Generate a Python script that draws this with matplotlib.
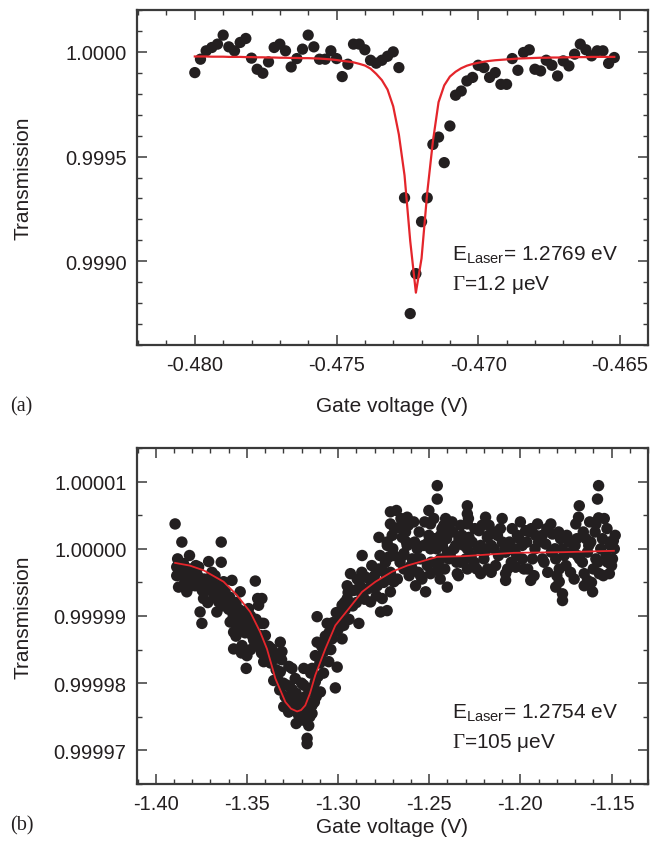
import numpy as np
import matplotlib
matplotlib.use("Agg")
import matplotlib.pyplot as plt
from matplotlib.ticker import MultipleLocator, FormatStrFormatter

plt.rcParams['font.family'] = ['Liberation Sans', 'DejaVu Sans']
plt.rcParams['mathtext.fontset'] = 'custom'
plt.rcParams['mathtext.rm'] = 'Liberation Serif'
plt.rcParams['mathtext.sf'] = 'Liberation Sans'
plt.rcParams['axes.unicode_minus'] = False

# ---------------- Panel (a) data ----------------
gate_a = [-0.4800, -0.4798, -0.4796, -0.4794, -0.4792, -0.4790, -0.4788, -0.4786, -0.4784, -0.4782,
          -0.4780, -0.4778, -0.4776, -0.4774, -0.4772, -0.4770, -0.4768, -0.4766, -0.4764, -0.4762,
          -0.4760, -0.4758, -0.4756, -0.4754, -0.4752, -0.4750, -0.4748, -0.4746, -0.4744, -0.4742,
          -0.4740, -0.4738, -0.4736, -0.4734, -0.4732, -0.4730, -0.4728, -0.4726, -0.4724, -0.4722,
          -0.4720, -0.4718, -0.4716, -0.4714, -0.4712, -0.4710, -0.4708, -0.4706, -0.4704, -0.4702,
          -0.4700, -0.4698, -0.4696, -0.4694, -0.4692, -0.4690, -0.4688, -0.4686, -0.4684, -0.4682,
          -0.4680, -0.4678, -0.4676, -0.4674, -0.4672, -0.4670, -0.4668, -0.4666, -0.4664, -0.4662,
          -0.4660, -0.4658, -0.4656, -0.4654, -0.4652]
# transmission deviation from 1, in units of 1e-4
dev_a = [-0.99, -0.35, 0.05, 0.21, 0.37, 0.80, 0.24, 0.05, 0.45, 0.64,
         -0.30, -0.83, -1.02, -0.48, 0.21, 0.37, 0.05, -0.72, -0.32, 0.13,
         0.80, 0.24, -0.35, -0.35, 0.05, -0.32, -1.18, -0.59, 0.37, 0.37,
         0.10, -0.40, -0.54, -0.40, -0.21, 0.00, -0.75, -6.97, -12.50, -10.59,
         -8.11, -6.97, -4.42, -4.07, -5.29, -3.54, -2.07, -1.87, -1.39, -1.22,
         -0.64, -0.75, -1.22, -0.99, -1.55, -1.55, -0.32, -0.88, -0.03, 0.10,
         -0.83, -0.91, -0.40, -0.64, -1.15, -0.43, -0.67, -0.11, 0.37, 0.10,
         -0.19, 0.05, 0.05, -0.55, -0.27]
fit_dev_a = [-0.22, -0.22, -0.22, -0.23, -0.23, -0.23, -0.24, -0.24, -0.24, -0.25,
             -0.25, -0.26, -0.26, -0.27, -0.27, -0.28, -0.28, -0.29, -0.29, -0.30,
             -0.30, -0.31, -0.32, -0.34, -0.36, -0.39, -0.43, -0.46, -0.50, -0.57,
             -0.65, -0.80, -1.05, -1.35, -1.80, -2.60, -3.95, -5.90, -9.03, -11.50,
             -9.86, -6.73, -4.28, -2.40, -1.60, -1.18, -0.95, -0.78, -0.66, -0.58,
             -0.52, -0.47, -0.43, -0.40, -0.38, -0.36, -0.34, -0.32, -0.31, -0.30,
             -0.29, -0.28, -0.28, -0.27, -0.27, -0.26, -0.26, -0.25, -0.25, -0.25,
             -0.24, -0.24, -0.24, -0.24, -0.24]

# ---------------- Panel (b) data ----------------
gate_b = [-1.3894, -1.3857, -1.3641, -1.3815, -1.3710, -1.3641, -1.3885, -1.3848, -1.3885, -1.3812,
          -1.3765, -1.3692, -1.3875, -1.3830, -1.3784, -1.3729, -1.3738, -1.3683, -1.3628, -1.3582,
          -1.3655, -1.3665, -1.3757, -1.3747, -1.3610, -1.3537, -1.3454, -1.3441, -1.3436, -1.3592,
          -1.3546, -1.3518, -1.3491, -1.3573, -1.3537, -1.3482, -1.3418, -1.3573, -1.3527, -1.3500,
          -1.3463, -1.3427, -1.3504, -1.3408,
          -1.3418, -1.3408, -1.3399, -1.3390, -1.3363, -1.3317, -1.3344, -1.3308, -1.3353, -1.3317,
          -1.3253, -1.3280, -1.3235, -1.3298, -1.3271, -1.3235, -1.3216, -1.3188, -1.3161, -1.3143,
          -1.3180, -1.3143, -1.3170, -1.3170, -1.3188, -1.3143, -1.3188, -1.3125, -1.3097, -1.3115,
          -1.3060, -1.3115, -1.3125, -1.3078, -1.3051, -1.3005, -1.3015, -1.3033, -1.2978, -1.3024,
          -1.2969, -1.2886, -1.2978, -1.2950, -1.2950, -1.2932, -1.2914, -1.2868, -1.2868, -1.2850,
          -1.2813, -1.2822, -1.2767, -1.2758, -1.2776, -1.2776, -1.2731, -1.2721, -1.2713, -1.2713,
          -1.2721,
          -1.2456, -1.2456, -1.2502, -1.2493, -1.2680, -1.2621, -1.2703, -1.2666, -1.2648, -1.2621,
          -1.2694, -1.2639, -1.2566, -1.2593, -1.2548, -1.2502, -1.2438, -1.2410, -1.2410, -1.2493,
          -1.2428, -1.2438, -1.2291, -1.2291, -1.2328, -1.2291, -1.2337, -1.2282, -1.2191, -1.2172,
          -1.2227, -1.2181, -1.2126, -1.2099, -1.2016, -1.2218, -1.2144, -1.2081, -1.2034, -1.2291,
          -1.2364, -1.2392, -1.2328, -1.2254, -1.2218, -1.2136, -1.2081, -1.2081, -1.2026, -1.2713,
          -1.2694, -1.2713, -1.2731, -1.2575, -1.2520, -1.2548, -1.2493, -1.2456, -1.2401, -1.2346,
          -1.2291, -1.2593, -1.2639,
          -1.1571, -1.1577, -1.1571, -1.1586, -1.1677, -1.1681, -1.1696, -1.1906, -1.1833, -1.1971,
          -1.2007, -1.1916, -1.1824, -1.1861, -1.1732, -1.1614, -1.1512, -1.1485, -1.1559, -1.2034,
          -1.1989, -1.1934, -1.1879, -1.1943, -1.2026, -1.1806, -1.1760, -1.1687, -1.1632, -1.1586,
          -1.1522, -1.1512, -1.1567, -1.1787, -1.1787, -1.1806, -1.1769, -1.1769, -1.1705, -1.1650,
          -1.1650, -1.1604, -1.1632,
          -1.3870, -1.3800, -1.3760, -1.3720, -1.3680, -1.3640, -1.3600, -1.3560, -1.3520, -1.3480,
          -1.3460, -1.3440, -1.3420, -1.3560, -1.3530, -1.3480, -1.3840, -1.3790, -1.3700, -1.3660,
          -1.3340, -1.3320, -1.3290, -1.3260, -1.3250, -1.3220, -1.3200, -1.3200, -1.3160, -1.3150,
          -1.3100, -1.3090, -1.3070, -1.3040, -1.3000, -1.2990, -1.2960, -1.2940, -1.2900, -1.2880,
          -1.2840, -1.2800, -1.2790, -1.2750, -1.2740, -1.3270, -1.3230, -1.3130,
          -1.2660, -1.2610, -1.2580, -1.2530, -1.2510, -1.2470, -1.2440, -1.2400, -1.2370, -1.2350,
          -1.2310, -1.2270, -1.2250, -1.2200, -1.2160, -1.2110, -1.2060, -1.2050, -1.1990, -1.1960,
          -1.1920, -1.1880, -1.1850, -1.1810, -1.1780, -1.1750, -1.1720, -1.1700, -1.1660, -1.1640,
          -1.1600, -1.1550, -1.1530, -1.1500, -1.1490, -1.2630, -1.2560, -1.2420, -1.2180, -1.1950,
          -1.2700, -1.2690, -1.2675, -1.2655, -1.2645, -1.2625, -1.2615, -1.2600, -1.2585, -1.2570,
          -1.2555, -1.2540, -1.2525, -1.2505, -1.2490, -1.2475, -1.2460, -1.2450, -1.2430, -1.2415,
          -1.2405, -1.2385, -1.2375, -1.2355, -1.2340, -1.2320, -1.2300, -1.2285, -1.2265, -1.2240,
          -1.2230, -1.2210, -1.2195, -1.2175, -1.2160, -1.2140, -1.2120, -1.2100, -1.2085, -1.2070,
          -1.2045, -1.2020, -1.2000, -1.1980, -1.1965, -1.1940, -1.1925, -1.1900, -1.1870, -1.1855,
          -1.1830, -1.1800, -1.1790, -1.1770, -1.1745, -1.1725, -1.1690, -1.1675, -1.1655, -1.1625,
          -1.1610, -1.1590, -1.1575, -1.1545, -1.1525, -1.1505, -1.1495, -1.1480, -1.1540, -1.1620,
          -1.3880, -1.3860, -1.3850, -1.3825, -1.3805, -1.3780, -1.3770, -1.3745, -1.3735, -1.3715,
          -1.3700, -1.3675, -1.3650, -1.3635, -1.3620, -1.3595, -1.3575, -1.3565, -1.3545, -1.3510,
          -1.3495, -1.3470, -1.3450, -1.3435, -1.3415,
          -1.3380, -1.3370, -1.3350, -1.3330, -1.3310, -1.3300, -1.3285, -1.3265, -1.3245, -1.3230,
          -1.3210, -1.3195, -1.3180, -1.3165, -1.3155, -1.3135, -1.3120, -1.3110, -1.3095, -1.3080,
          -1.3065, -1.3050, -1.3030, -1.3010, -1.2985, -1.2965, -1.2945, -1.2920, -1.2895, -1.2870,
          -1.2855, -1.2830, -1.2815, -1.2785, -1.2770, -1.2745, -1.2730]
# transmission deviation from 1, in units of 1e-5
dev_b = [0.37, 0.10, 0.10, -0.10, -0.19, -0.20, -0.27, -0.22, -0.40, -0.30,
         -0.27, -0.35, -0.57, -0.64, -0.55, -0.52, -0.74, -0.64, -0.49, -0.47,
         -0.79, -0.94, -0.94, -1.11, -0.79, -0.64, -0.48, -0.74, -0.84, -1.09,
         -0.99, -0.94, -0.89, -1.24, -1.19, -1.14, -1.11, -1.49, -1.44, -1.59,
         -1.36, -1.29, -1.78, -1.68,
         -0.74, -1.11, -1.29, -1.59, -1.49, -1.39, -1.63, -1.53, -1.96, -1.83,
         -1.78, -2.03, -1.93, -2.35, -2.43, -2.30, -2.48, -2.55, -2.63, -2.45,
         -2.20, -2.33, -2.82, -2.90, -1.78, -1.78, -2.03, -1.98, -2.13, -1.01,
         -1.11, -1.39, -1.59, -1.53, -1.68, -1.76, -2.07, -1.34, -1.34, -1.24,
         -1.14, -1.11, -0.84, -0.74, -0.55, -0.37, -0.62, -0.69, -0.10, -0.42,
         -0.57, -0.79, -0.94, -0.74, -0.30, 0.17, 0.10, -0.12, 0.55, 0.37,
         -0.45,
         0.94, 0.74, 0.57, 0.37, 0.57, 0.47, 0.20, 0.32, 0.17, 0.05,
         -0.10, -0.07, 0.00, -0.15, -0.15, 0.20, 0.20, 0.45, 0.30, 0.00,
         0.05, -0.15, 0.64, 0.52, 0.35, 0.37, 0.15, 0.17, 0.47, 0.35,
         0.27, 0.17, 0.20, 0.10, 0.20, 0.05, 0.00, -0.05, 0.00, 0.00,
         0.00, -0.15, -0.20, -0.20, -0.37, -0.25, -0.37, -0.47, -0.27, -0.35,
         -0.49, -0.64, -0.92, -0.55, -0.64, -0.40, -0.37, -0.32, -0.57, -0.37,
         -0.30, -0.30, -0.30,
         0.94, 0.74, 0.46, 0.37, 0.64, 0.47, 0.37, 0.37, 0.37, 0.27,
         0.15, 0.20, 0.22, 0.07, 0.10, 0.10, 0.10, 0.00, 0.00, -0.03,
         -0.15, -0.15, -0.15, -0.47, -0.27, -0.15, -0.10, -0.10, -0.05, -0.15,
         -0.20, -0.37, -0.37, -0.30, -0.49, -0.57, -0.67, -0.77, -0.45, -0.37,
         -0.55, -0.64, -0.47,
         -0.35, -0.42, -0.50, -0.58, -0.70, -0.66, -0.90, -0.80, -1.05, -1.00,
         -1.20, -1.45, -1.55, -1.30, -1.55, -1.50, -0.48, -0.34, -0.47, -0.55,
         -1.80, -2.10, -2.20, -2.25, -2.10, -2.30, -2.40, -2.00, -2.10, -1.85,
         -1.70, -1.45, -1.30, -1.50, -1.20, -1.00, -0.90, -1.05, -0.80, -0.55,
         -0.60, -0.40, -0.70, -0.50, -0.20, -1.75, -2.60, -2.28,
         -0.20, -0.40, 0.10, 0.05, -0.25, 0.15, -0.45, -0.05, 0.25, -0.20,
         0.05, -0.10, 0.30, -0.15, 0.05, 0.30, 0.10, -0.20, 0.05, -0.30,
         0.00, 0.20, -0.35, 0.00, 0.15, -0.25, -0.05, 0.05, -0.20, 0.15,
         -0.30, 0.15, -0.10, -0.25, 0.12, 0.25, -0.35, 0.35, -0.30, 0.25,
         0.00, 0.30, -0.45, 0.45, -0.10, 0.10, 0.35, -0.25, 0.40, -0.15,
         0.25, -0.45, 0.40, 0.10, -0.20, 0.45, 0.00, -0.25, 0.30, -0.30,
         0.15, -0.10, 0.40, 0.05, -0.40, 0.20, -0.15, 0.45, 0.10, -0.30,
         0.00, 0.35, -0.05, 0.20, -0.35, 0.25, -0.10, 0.45, 0.00, -0.30,
         0.30, -0.10, 0.40, -0.30, 0.10, 0.30, -0.40, 0.10, -0.20, 0.30,
         -0.05, -0.40, 0.25, 0.00, 0.20, -0.35, 0.15, -0.15, 0.25, 0.05,
         -0.50, 0.25, -0.20, -0.40, 0.30, 0.05, -0.15, 0.20, 0.45, 0.40,
         -0.15, -0.30, -0.55, -0.38, -0.55, -0.25, -0.40, -0.62, -0.45, -0.80,
         -0.62, -0.40, -0.70, -0.85, -0.62, -0.72, -1.00, -1.10, -0.90, -1.25,
         -1.15, -1.30, -1.05, -1.35, -1.40,
         -1.45, -1.70, -1.60, -1.95, -1.65, -2.00, -2.35, -2.05, -2.40, -2.15,
         -2.55, -2.25, -2.45, -2.30, -2.50, -2.05, -2.20, -1.90, -1.60, -1.85,
         -1.45, -1.25, -1.10, -0.95, -1.15, -0.80, -0.65, -0.85, -0.45, -0.35,
         -0.75, -0.45, -0.25, -0.55, -0.10, -0.35, 0.05]

fit_gate_b = [-1.3894, -1.3813, -1.3738, -1.3628, -1.3555, -1.3482, -1.3427, -1.3390, -1.3344, -1.3289,
              -1.3258, -1.3225, -1.3203, -1.3180, -1.3154, -1.3125, -1.3070, -1.3015, -1.2941, -1.2868,
              -1.2795, -1.2703, -1.2621, -1.2456, -1.2312, -1.2037, -1.1762, -1.1487]
fit_dev_b = [-0.21, -0.25, -0.32, -0.49, -0.69, -0.94, -1.24, -1.49, -1.93, -2.28,
             -2.38, -2.42, -2.40, -2.33, -2.15, -1.88, -1.49, -1.14, -0.89, -0.64,
             -0.49, -0.34, -0.25, -0.12, -0.11, -0.06, -0.05, -0.03]

trans_a = 1.0 + np.array(dev_a) * 1e-4
fit_a = 1.0 + np.array(fit_dev_a) * 1e-4
trans_b = 1.0 + np.array(dev_b) * 1e-5
fit_b = 1.0 + np.array(fit_dev_b) * 1e-5

W, H = 656, 853
fig = plt.figure(figsize=(W / 100, H / 100), dpi=100)

def box(l, t, r, b):
    return [l / W, 1 - b / H, (r - l) / W, (b - t) / H]

ax_a = fig.add_axes(box(137, 11, 648, 346))
ax_b = fig.add_axes(box(137, 449, 648, 785))

dot_color = '#231f20'
red = '#e4252b'
FS = 14.5

for ax in (ax_a, ax_b):
    for s in ax.spines.values():
        s.set_linewidth(1.6)
        s.set_color('#3a3a3a')
    ax.tick_params(which='both', direction='in', top=True, right=True,
                   labelsize=FS, colors='#3a3a3a', labelcolor='#231f20')
    ax.tick_params(which='major', length=7, width=1.1, pad=7.5)
    ax.tick_params(which='minor', length=3.5, width=1.0)

ax_a.scatter(gate_a, trans_a, s=66, color=dot_color, edgecolors='none', zorder=2)
ax_a.plot(gate_a, fit_a, color=red, lw=1.6, zorder=3)
ax_a.set_xlim(-0.48204, -0.46401)
ax_a.set_ylim(0.99860, 1.00020)
ax_a.xaxis.set_major_locator(MultipleLocator(0.005))
ax_a.xaxis.set_minor_locator(MultipleLocator(0.001))
ax_a.yaxis.set_major_locator(MultipleLocator(0.0005))
ax_a.yaxis.set_minor_locator(MultipleLocator(0.0001))
ax_a.xaxis.set_major_formatter(FormatStrFormatter('%.3f'))
ax_a.yaxis.set_major_formatter(FormatStrFormatter('%.4f'))

ax_b.scatter(gate_b, trans_b, s=68, color=dot_color, edgecolors='none', zorder=2)
ax_b.plot(fit_gate_b, fit_b, color=red, lw=1.3, zorder=3)
ax_b.set_xlim(-1.4103, -1.1300)
ax_b.set_ylim(0.999965, 1.000015)
ax_b.xaxis.set_major_locator(MultipleLocator(0.05))
ax_b.xaxis.set_minor_locator(MultipleLocator(0.01))
ax_b.yaxis.set_major_locator(MultipleLocator(1e-5))
ax_b.yaxis.set_minor_locator(MultipleLocator(5e-6))
ax_b.xaxis.set_major_formatter(FormatStrFormatter('%.2f'))
ax_b.yaxis.set_major_formatter(FormatStrFormatter('%.5f'))

for ax, xl_y in ((ax_a, -0.152), (ax_b, -0.097)):
    ax.set_xlabel('Gate voltage (V)', fontsize=FS + 0.5, color='#231f20')
    ax.set_ylabel('Transmission', fontsize=FS + 0.5, color='#231f20')
    ax.xaxis.set_label_coords(0.5, xl_y)
    ax.yaxis.set_label_coords(-0.205, 0.5)

ax_a.text(0.616, 0.257, r'E$_{\mathsf{Laser}}$= 1.2769 eV', transform=ax_a.transAxes,
          fontsize=FS + 0.5, color='#231f20', va='baseline', ha='left')
ax_a.text(0.616, 0.167, '$\\Gamma$=1.2 \u03bceV', transform=ax_a.transAxes,
          fontsize=FS + 0.5, color='#231f20', va='baseline', ha='left')
ax_b.text(0.616, 0.199, r'E$_{\mathsf{Laser}}$= 1.2754 eV', transform=ax_b.transAxes,
          fontsize=FS + 0.5, color='#231f20', va='baseline', ha='left')
ax_b.text(0.616, 0.110, '$\\Gamma$=105 \u03bceV', transform=ax_b.transAxes,
          fontsize=FS + 0.5, color='#231f20', va='baseline', ha='left')

fig.text(10 / W, 1 - 407 / H, '(a)', fontsize=FS, family='Liberation Serif', va='center', ha='left', color='#231f20')
fig.text(10 / W, 1 - 826 / H, '(b)', fontsize=FS, family='Liberation Serif', va='center', ha='left', color='#231f20')

fig.savefig('out.png', dpi=100)
